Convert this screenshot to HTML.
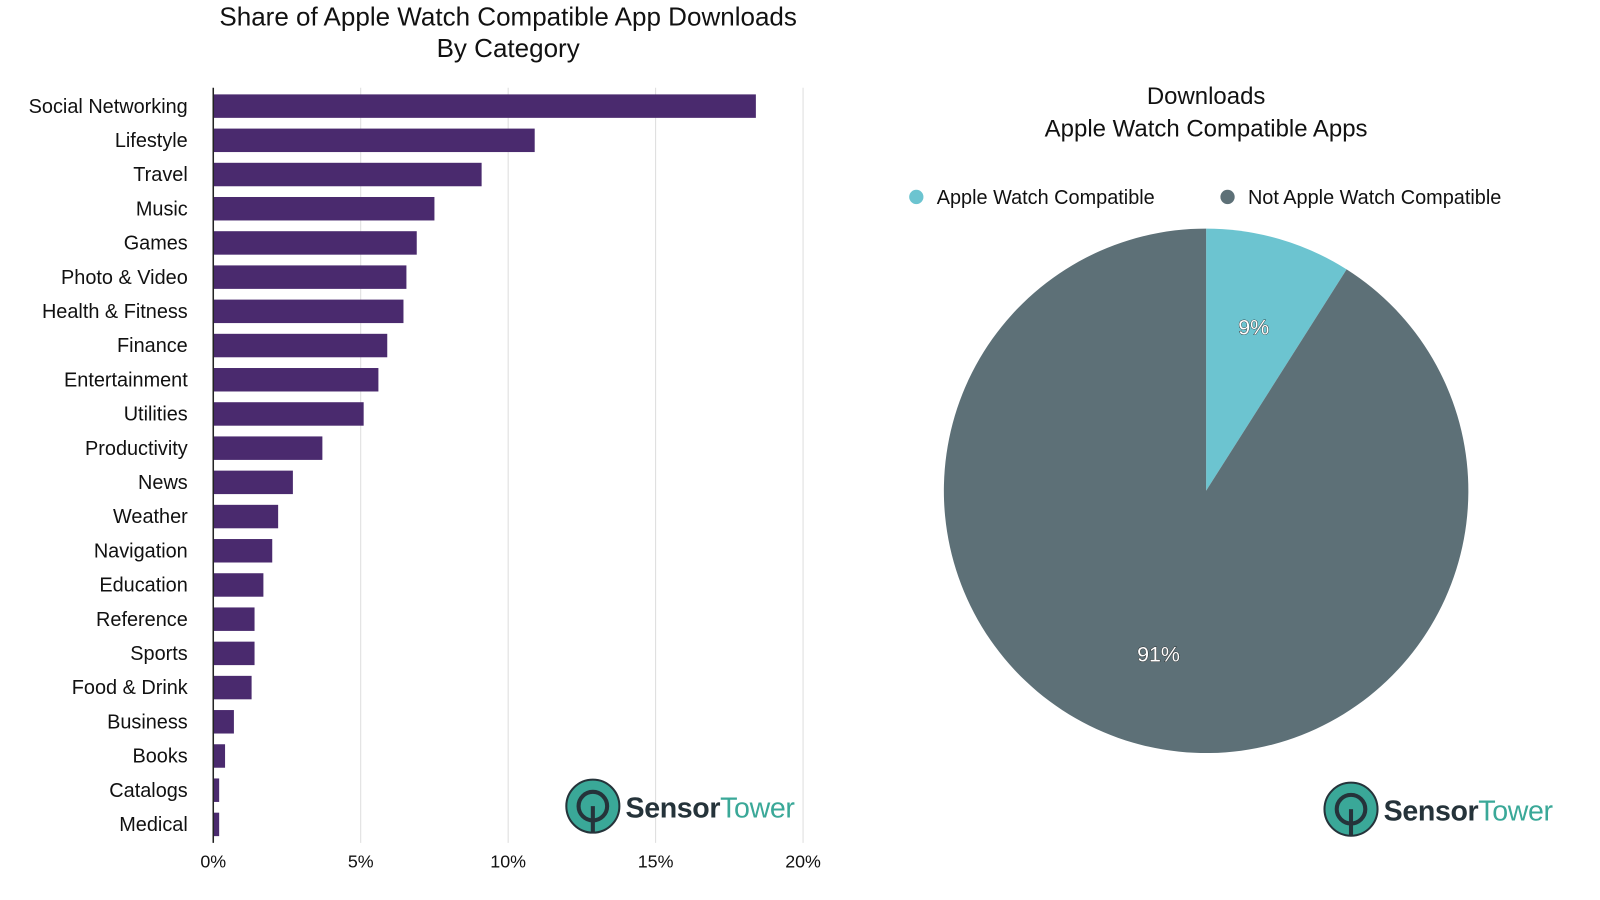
<!DOCTYPE html>
<html><head><meta charset="utf-8"><style>
body{margin:0;background:#fff;font-family:"Liberation Sans",Arial,sans-serif;}
svg{display:block}
</style></head><body>
<svg id="c" width="1600" height="900" xmlns="http://www.w3.org/2000/svg">
<g transform="scale(1.0204)">
<text x="498" y="25" text-anchor="middle" font-size="25.5" fill="#111">Share of Apple Watch Compatible App Downloads</text>
<text x="498" y="56" text-anchor="middle" font-size="25.5" fill="#111">By Category</text>
<g id="grid"></g>
<g id="bars"></g>
<g id="ylabels"></g>
<g id="xlabels"></g>
<line x1="209" y1="86" x2="209" y2="826" stroke="#222" stroke-width="1.5"/>
<text x="1182" y="102" text-anchor="middle" font-size="23.5" fill="#111">Downloads</text>
<text x="1182" y="134" text-anchor="middle" font-size="23.5" fill="#111">Apple Watch Compatible Apps</text>
<g><circle cx="898" cy="193" r="7" fill="#6cc4d0"/><text x="918" y="200" font-size="19.5" fill="#111">Apple Watch Compatible</text></g>
<g><circle cx="1203" cy="193" r="7" fill="#5d7077"/><text x="1223" y="200" font-size="19.5" fill="#111">Not Apple Watch Compatible</text></g>
<g id="pie"></g>
<g transform="translate(581,790)">
<circle r="26" fill="#3aa898" stroke="#25333a" stroke-width="2"/><circle r="14" fill="none" stroke="#25333a" stroke-width="4"/><line x1="0" y1="0" x2="0" y2="26" stroke="#25333a" stroke-width="4"/>
<text x="32" y="11" font-size="28" font-weight="bold" fill="#25333a" textLength="166">Sensor<tspan font-weight="normal" fill="#3aa898">Tower</tspan></text></g>
<g transform="translate(1324,793)">
<circle r="26" fill="#3aa898" stroke="#25333a" stroke-width="2"/><circle r="14" fill="none" stroke="#25333a" stroke-width="4"/><line x1="0" y1="0" x2="0" y2="26" stroke="#25333a" stroke-width="4"/>
<text x="32" y="11" font-size="28" font-weight="bold" fill="#25333a" textLength="166">Sensor<tspan font-weight="normal" fill="#3aa898">Tower</tspan></text></g>
</g>
</svg>
<script>
const categories=["Social Networking","Lifestyle","Travel","Music","Games","Photo & Video","Health & Fitness","Finance","Entertainment","Utilities","Productivity","News","Weather","Navigation","Education","Reference","Sports","Food & Drink","Business","Books","Catalogs","Medical"];
const shares=[18.4,10.9,9.1,7.5,6.9,6.55,6.45,5.9,5.6,5.1,3.7,2.7,2.2,2.0,1.7,1.4,1.4,1.3,0.7,0.4,0.2,0.2];
const xTicks=[0,5,10,15,20];
const xTickLabels=["0%","5%","10%","15%","20%"];
const pieLabels=["Apple Watch Compatible","Not Apple Watch Compatible"];
const pieValues=[9,91];
const pieColors=["#6cc4d0","#5d7077"];
const NS="http://www.w3.org/2000/svg";
function mk(t,a,p){const e=document.createElementNS(NS,t);for(const k in a)e.setAttribute(k,a[k]);p.appendChild(e);return e;}
const x=v=>209+v*28.9;
const y=i=>104+i*33.52;
const grid=document.getElementById('grid'),bars=document.getElementById('bars'),yl=document.getElementById('ylabels'),xl=document.getElementById('xlabels');
xTicks.forEach((t,i)=>{
 if(t>0){const l=mk('line',{x1:x(t),x2:x(t),y1:86,y2:826,stroke:'#ddd','stroke-width':1},grid);
 
 }
 const tx=mk('text',{x:x(t),y:850,'text-anchor':'middle','font-size':17.5,fill:'#111'},xl);tx.textContent=xTickLabels[i];
 
 
});
categories.forEach((c,i)=>{
 const r=mk('rect',{x:209,y:y(i)-11.5,width:x(shares[i])-209,height:23,fill:'#4a2a6e'},bars);
 
 
 const t=mk('text',{x:184,y:y(i)+6.5,'text-anchor':'end','font-size':19.5,fill:'#111'},yl);t.textContent=c;
 
 
});
const pie=document.getElementById('pie');const cx=1182,cy=481,R=257;
const tot=pieValues.reduce((a,b)=>a+b,0);let a0=0;
pieValues.forEach((v,i)=>{
 const a1=a0+v/tot*2*Math.PI;
 const p=(a)=>[cx+R*Math.sin(a),cy-R*Math.cos(a)];
 const [x0,y0]=p(a0),[x1,y1]=p(a1);
 const s=mk('path',{d:`M${cx},${cy}L${x0},${y0}A${R},${R} 0 ${a1-a0>Math.PI?1:0} 1 ${x1},${y1}Z`,fill:pieColors[i]},pie);
 
 
 const am=(a0+a1)/2,lr=R*0.65;
 const t=mk('text',{x:cx+lr*Math.sin(am),y:cy-lr*Math.cos(am)+7,'text-anchor':'middle','font-size':21,fill:'#fff',stroke:'#222','stroke-width':0.8,'paint-order':'stroke'},pie);
 t.textContent=Math.round(v/tot*100)+'%';
 
 
 a0=a1;
});
</script>
</body></html>
